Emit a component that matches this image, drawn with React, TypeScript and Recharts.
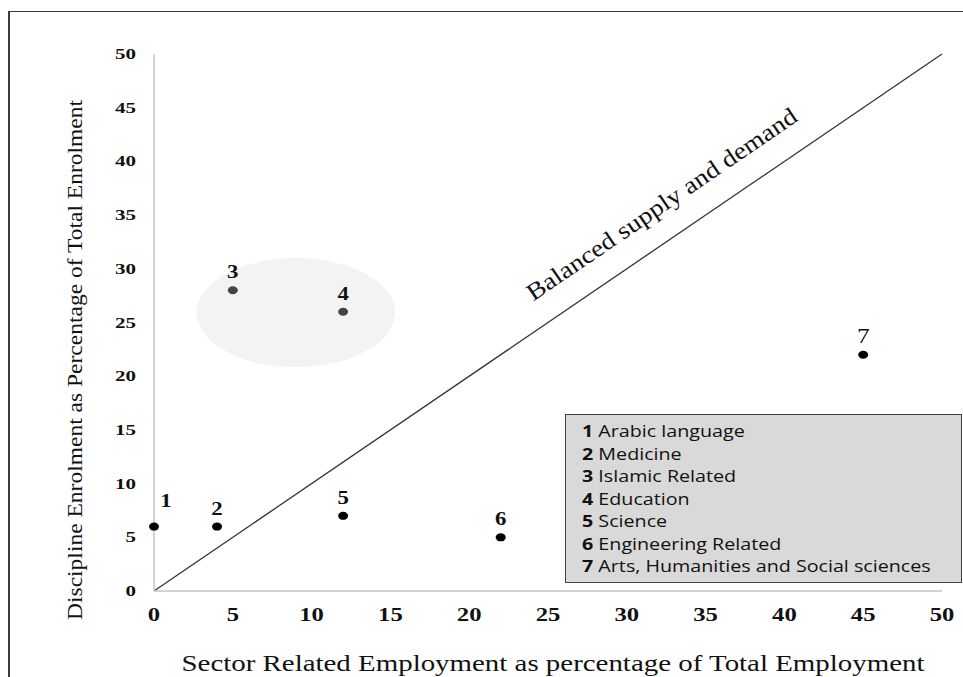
import React from 'react';
import {
  ScatterChart,
  Scatter,
  XAxis,
  YAxis,
  ReferenceLine,
  ReferenceArea,
  ReferenceDot,
} from 'recharts';

// disciplines, numbered as in the key box
const disciplineIds = [1, 2, 3, 4, 5, 6, 7];
const disciplineNames = [
  'Arabic language',
  'Medicine',
  'Islamic Related',
  'Education',
  'Science',
  'Engineering Related',
  'Arts, Humanities and Social sciences',
];
// sector related employment (% of total employment)
const employmentShare = [0, 4, 5, 12, 12, 22, 45];
// discipline enrolment (% of total enrolment)
const enrolmentShare = [6, 6, 28, 26, 7, 5, 22];
// the two disciplines circled in the figure
const highlightedIds = [3, 4];

const xTicks = [0, 5, 10, 15, 20, 25, 30, 35, 40, 45, 50];
const yTicks = [0, 5, 10, 15, 20, 25, 30, 35, 40, 45, 50];

const points = disciplineIds.map((id, i) => ({
  id,
  name: disciplineNames[i],
  x: employmentShare[i],
  y: enrolmentShare[i],
}));

const SERIF = "'Liberation Serif', 'Times New Roman', serif";

const renderXTick = (props: any) => {
  const { x, y, payload } = props;
  return (
    <text
      transform={`translate(${x},${y + 29.5}) scale(1.3,1)`}
      textAnchor="middle"
      fontFamily={SERIF}
      fontWeight="bold"
      fontSize={19}
      fill="#111"
    >
      {payload.value}
    </text>
  );
};

const renderYTick = (props: any) => {
  const { x, y, payload } = props;
  return (
    <text
      transform={`translate(${x - 18},${y + 5}) scale(1.4,1)`}
      textAnchor="end"
      fontFamily={SERIF}
      fontWeight="bold"
      fontSize={15}
      fill="#111"
    >
      {payload.value}
    </text>
  );
};

const renderPoint = (props: any) => {
  const { cx, cy, payload } = props;
  const grey = highlightedIds.includes(payload.id);
  const first = payload.id === 1;
  const last = payload.id === 7;
  return (
    <g>
      <ellipse cx={cx} cy={cy} rx={5} ry={4} fill={grey ? '#444' : '#000'} />
      <text
        transform={`translate(${cx + (first ? 12 : 0)},${cy + (first ? -20 : -12)}) scale(1.2,1)`}
        textAnchor="middle"
        fontFamily={SERIF}
        fontWeight={last ? 'normal' : 'bold'}
        fontSize={last ? 21 : 19}
        fill="#111"
      >
        {payload.id}
      </text>
    </g>
  );
};

const renderBlob = (props: any) => {
  const { x, y, width, height } = props;
  return (
    <ellipse
      cx={x + width / 2}
      cy={y + height / 2}
      rx={width / 2}
      ry={height / 2}
      fill="#f3f3f3"
    />
  );
};

const renderBalanceLabel = (props: any) => {
  const { cx, cy } = props;
  return (
    <text
      x={cx}
      y={cy}
      transform={`rotate(-34.3 ${cx} ${cy})`}
      textAnchor="middle"
      fontFamily={SERIF}
      fontSize={24}
      textLength={322}
      lengthAdjust="spacingAndGlyphs"
      fill="#111"
    >
      Balanced supply and demand
    </text>
  );
};

export default function App() {
  return (
    <div
      style={{
        position: 'absolute',
        left: 0,
        top: 0,
        width: 963,
        height: 677,
        background: '#fff',
        overflow: 'hidden',
      }}
    >
      <div
        style={{
          position: 'absolute',
          left: 8,
          top: 11,
          width: 1000,
          height: 700,
          borderTop: '1.5px solid #3a3a3a',
          borderLeft: '2px solid #3a3a3a',
        }}
      />
      <ScatterChart
        width={963}
        height={677}
        margin={{ top: 54, right: 21, bottom: 0, left: 0 }}
        style={{ position: 'absolute', left: 0, top: 0 }}
      >
        <XAxis
          type="number"
          dataKey="x"
          domain={[0, 50]}
          ticks={xTicks}
          interval={0}
          height={86}
          tickLine={false}
          tickSize={0}
          tickMargin={0}
          axisLine={{ stroke: '#c4c4c4', strokeWidth: 1.5 }}
          tick={renderXTick}
        />
        <YAxis
          type="number"
          dataKey="y"
          domain={[0, 50]}
          ticks={yTicks}
          interval={0}
          width={154}
          tickLine={false}
          tickSize={0}
          tickMargin={0}
          axisLine={{ stroke: '#c4c4c4', strokeWidth: 1.5 }}
          tick={renderYTick}
        />
        <ReferenceArea
          x1={2.7}
          x2={15.3}
          y1={20.85}
          y2={31}
          shape={renderBlob}
        />
        <ReferenceLine
          segment={[
            { x: 0, y: 0 },
            { x: 50, y: 50 },
          ]}
          stroke="#333"
          strokeWidth={1.3}
        />
        <ReferenceDot x={32.5} y={35.4} r={0} shape={renderBalanceLabel} />
        <Scatter data={points} shape={renderPoint} isAnimationActive={false} />
      </ScatterChart>

      <svg
        width={963}
        height={677}
        style={{ position: 'absolute', left: 0, top: 0, pointerEvents: 'none' }}
      >
        <text
          x={82}
          y={360}
          transform="rotate(-90 82 360)"
          textAnchor="middle"
          fontFamily={SERIF}
          fontSize={22}
          textLength={520}
          lengthAdjust="spacingAndGlyphs"
          fill="#111"
        >
          Discipline Enrolment as Percentage of Total Enrolment
        </text>
        <text
          x={553}
          y={671}
          textAnchor="middle"
          fontFamily={SERIF}
          fontSize={24}
          textLength={743}
          lengthAdjust="spacingAndGlyphs"
          fill="#111"
        >
          Sector Related Employment as percentage of Total Employment
        </text>
      </svg>

      <div
        style={{
          position: 'absolute',
          left: 565,
          top: 414,
          width: 397,
          height: 169,
          boxSizing: 'border-box',
          background: '#d9d9d9',
          border: '1.5px solid #404040',
          padding: '5px 0 0 16px',
          fontFamily: '"Open Sans", sans-serif',
          fontSize: 16,
          lineHeight: '22.5px',
          color: '#111',
        }}
      >
        {points.map((p) => (
          <div
            key={p.id}
            style={{
              whiteSpace: 'nowrap',
              transform: 'scaleX(1.23)',
              transformOrigin: 'left center',
            }}
          >
            <b>{p.id}</b> {p.name}
          </div>
        ))}
      </div>
    </div>
  );
}
